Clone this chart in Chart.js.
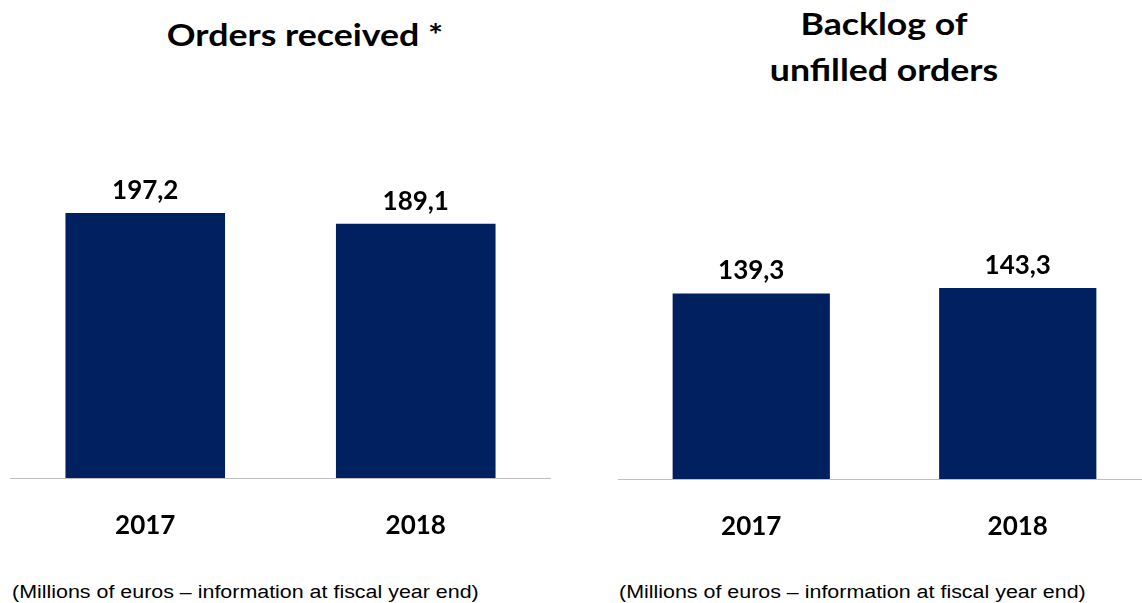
<!DOCTYPE html>
<html>
<head>
<meta charset="utf-8">
<script src="https://cdn.jsdelivr.net/npm/chart.js@4"></script>
<style>
    html, body {
        margin: 0;
        padding: 0;
        width: 1142px;
        height: 603px;
        overflow: hidden;
        background: #ffffff;
        position: relative;
    }
    .title {
        position: absolute;
        font-family: Lato, "Open Sans", sans-serif;
        font-weight: bold;
        font-size: 31px;
        line-height: 46px;
        color: #000000;
        text-align: center;
        white-space: nowrap;
        transform: scaleX(1.15);
        transform-origin: center top;
    }
    .note {
        position: absolute;
        font-family: "Liberation Sans", Arial, sans-serif;
        font-size: 18px;
        line-height: 20px;
        color: #000000;
        white-space: nowrap;
        transform: scaleX(1.19);
        transform-origin: left top;
    }
    .chartBox {
        position: absolute;
    }
</style>
</head>
<body>
<div class="title" style="left: 105px; top: 11px; width: 400px;">Orders received *</div>
<div class="title" style="left: 684px; top: 0px; width: 400px;">Backlog of<br>unfilled orders</div>

<div class="chartBox" style="left: 10px; top: 142px; width: 541px; height: 406px;">
    <canvas id="ordersChart"></canvas>
</div>
<div class="chartBox" style="left: 618px; top: 146px; width: 533px; height: 403px;">
    <canvas id="backlogChart"></canvas>
</div>

<div class="note" style="left: 12px; top: 582px;">(Millions of euros – information at fiscal year end)</div>
<div class="note" style="left: 619px; top: 582px;">(Millions of euros – information at fiscal year end)</div>

<script>
const years = ["2017", "2018"];
const ordersReceived = [197.2, 189.1];
const backlogOrders = [139.3, 143.3];
const valueAxisMax = 250;

const barColour = "#002060";
const axisLineColour = "#bfbfbf";
const boldFont = "Lato, 'Open Sans', sans-serif";

const valueLabels = {
    id: "valueLabels",
    afterDatasetsDraw(chart) {
        const ctx = chart.ctx;
        const meta = chart.getDatasetMeta(0);

        ctx.save();
        ctx.font = "bold 26px " + boldFont;
        ctx.fillStyle = "#000000";
        ctx.textAlign = "center";
        ctx.textBaseline = "alphabetic";

        meta.data.forEach((bar, index) => {
            const value = chart.data.datasets[0].data[index];
            ctx.fillText(value.toFixed(1).replace(".", ","), bar.x, bar.y - 14);
        });

        ctx.restore();
    }
};

function createBarChart(canvasId, values) {
    return new Chart(document.getElementById(canvasId), {
        type: "bar",
        data: {
            labels: years,
            datasets: [{
                data: values,
                backgroundColor: barColour,
                borderWidth: 0,
                barPercentage: 0.59,
                categoryPercentage: 1
            }]
        },
        options: {
            responsive: true,
            maintainAspectRatio: false,
            animation: false,
            layout: { padding: 0 },
            plugins: {
                legend: { display: false },
                tooltip: { enabled: false }
            },
            scales: {
                x: {
                    grid: { display: false, drawTicks: false },
                    border: { display: true, color: axisLineColour, width: 1 },
                    ticks: {
                        color: "#000000",
                        padding: 32,
                        font: { family: boldFont, size: 26, weight: "bold" }
                    },
                    afterFit(scale) {
                        scale.height = 70;
                    }
                },
                y: {
                    display: false,
                    min: 0,
                    max: valueAxisMax
                }
            }
        },
        plugins: [valueLabels]
    });
}

createBarChart("ordersChart", ordersReceived);
createBarChart("backlogChart", backlogOrders);
</script>
</body>
</html>
